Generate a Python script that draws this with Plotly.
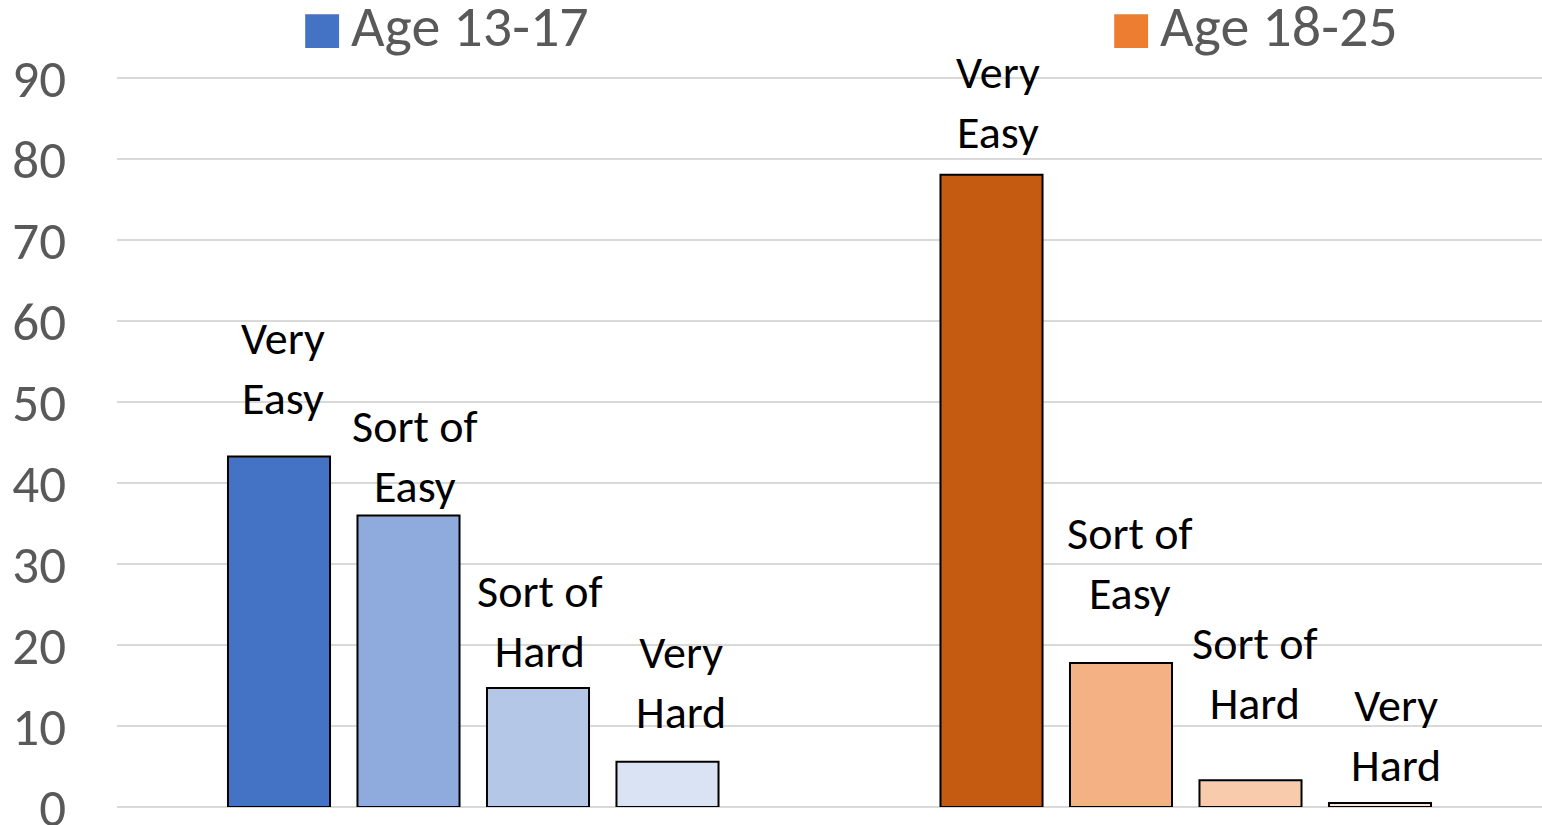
import plotly.graph_objects as go

# data
age_groups = ["Age 13-17", "Age 18-25"]
difficulty = ["Very<br>Easy", "Sort of<br>Easy", "Sort of<br>Hard", "Very<br>Hard"]
values_13_17 = [43.3, 36.0, 14.7, 5.6]
values_18_25 = [78.1, 17.8, 3.3, 0.5]
y_ticks = [0, 10, 20, 30, 40, 50, 60, 70, 80, 90]

# styling
blues = ["#4472C4", "#8FAADC", "#B4C7E7", "#DAE3F3"]
oranges = ["#C55A11", "#F4B183", "#F8CBAD", "#FBE5D6"]
legend_colors = ["#4472C4", "#ED7D31"]
label_dx = [[4, 6, 2, 13], [6, 9, 4, 16]]        # px nudges of the data labels
label_dy = [[88, 60, 67, 80], [73, 100, 107, 68]]
bargap = 0.273
bargroupgap = 0.212
FONT = "Carlito, Noto Sans, sans-serif"

fig = go.Figure()
for i, lvl in enumerate(difficulty):
    fig.add_trace(go.Bar(
        x=age_groups, y=[values_13_17[i], values_18_25[i]],
        name=lvl.replace("<br>", " "),
        marker=dict(color=[blues[i], oranges[i]], line=dict(color="black", width=2)),
        showlegend=False,
    ))

# data labels above each bar
slot = (1 - bargap) / len(difficulty)
for gi, vals in enumerate([values_13_17, values_18_25]):
    for i, lvl in enumerate(difficulty):
        fig.add_annotation(
            x=gi + (i - 1.5) * slot, y=vals[i], xref="x", yref="y",
            text=lvl, showarrow=False, xanchor="center", yanchor="middle",
            xshift=label_dx[gi][i], yshift=label_dy[gi][i],
            font=dict(family=FONT, size=46, color="black"),
        )

# legend entries drawn as annotations so the swatches can be large
swatch_x = [0.1442, 0.7119]
text_x = [0.163, 0.7305]
for name, col, sx, tx in zip(age_groups, legend_colors, swatch_x, text_x):
    fig.add_annotation(
        x=sx, y=1.065, xref="paper", yref="paper", showarrow=False,
        xanchor="center", yanchor="middle", text="■",
        font=dict(family=FONT, size=70, color=col),
    )
    fig.add_annotation(
        x=tx, y=1.068, xref="paper", yref="paper", showarrow=False,
        xanchor="left", yanchor="middle", text=name,
        font=dict(family=FONT, size=58, color="#595959"),
    )

fig.update_layout(
    width=1542, height=825,
    margin=dict(l=117, r=0, t=76, b=18),
    paper_bgcolor="white", plot_bgcolor="white",
    barmode="group", bargap=bargap, bargroupgap=bargroupgap,
    showlegend=False,
    font=dict(family=FONT, color="#595959"),
)
fig.update_xaxes(showticklabels=False, showgrid=False, zeroline=False, showline=False,
                 automargin=False)
fig.update_yaxes(range=[0, 90.3], tickvals=y_ticks, showgrid=True, gridcolor="#D9D9D9",
                 gridwidth=2, zeroline=True, zerolinecolor="#D9D9D9", zerolinewidth=2,
                 tickfont=dict(family=FONT, size=53, color="#595959"),
                 ticklabelstandoff=50, ticklabeloverflow="allow", automargin=False)

fig.write_html("out.html", config={"displayModeBar": False},
               post_script="document.body.style.margin = '0';")
